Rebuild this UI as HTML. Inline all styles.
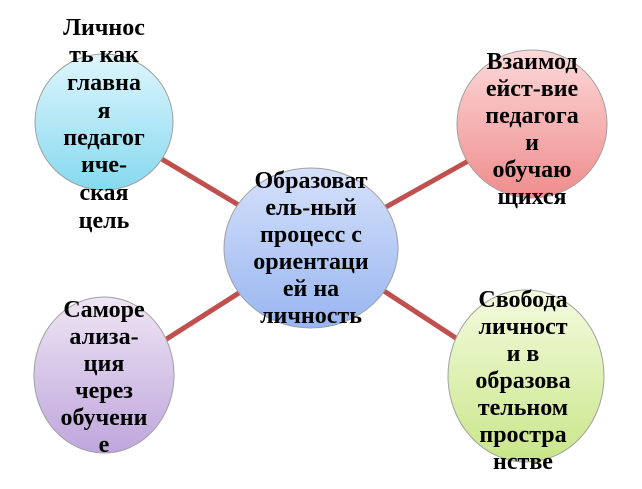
<!DOCTYPE html>
<html><head><meta charset="utf-8"><style>
html,body{margin:0;padding:0;background:#fff;}
svg{display:block}
text{font-family:"Liberation Serif","Times New Roman","DejaVu Serif",serif;font-weight:bold;font-size:24px;fill:#000;text-anchor:middle}
</style></head><body>
<svg width="642" height="489" viewBox="0 0 642 489" xmlns="http://www.w3.org/2000/svg">
<defs>
<linearGradient id="g1" x1="0" y1="0" x2="0" y2="1"><stop offset="0" stop-color="#dff6fd"/><stop offset="1" stop-color="#86d9ef"/></linearGradient>
<linearGradient id="g2" x1="0" y1="0" x2="0" y2="1"><stop offset="0" stop-color="#fdd9d9"/><stop offset="1" stop-color="#ef8c8c"/></linearGradient>
<linearGradient id="g3" x1="0" y1="0" x2="0" y2="1"><stop offset="0" stop-color="#d6e1fb"/><stop offset="1" stop-color="#98b6f0"/></linearGradient>
<linearGradient id="g4" x1="0" y1="0" x2="0" y2="1"><stop offset="0" stop-color="#efe5f4"/><stop offset="1" stop-color="#bea6dc"/></linearGradient>
<linearGradient id="g5" x1="0" y1="0" x2="0" y2="1"><stop offset="0" stop-color="#f4fbdf"/><stop offset="1" stop-color="#c9e689"/></linearGradient>
</defs>
<g stroke="#c0504d" stroke-width="5">
<line x1="160" y1="158" x2="242" y2="207"/>
<line x1="470" y1="160" x2="386" y2="207"/>
<line x1="165" y1="340" x2="242" y2="291"/>
<line x1="462" y1="342" x2="384" y2="291"/>
</g>
<g stroke="#a0a0a0" stroke-width="1">
<ellipse cx="104" cy="122" rx="69" ry="68" fill="url(#g1)"/>
<ellipse cx="532" cy="124" rx="75" ry="74" fill="url(#g2)"/>
<ellipse cx="311" cy="248" rx="87" ry="80" fill="url(#g3)"/>
<ellipse cx="104" cy="375" rx="70" ry="78" fill="url(#g4)"/>
<ellipse cx="526" cy="376" rx="78" ry="86" fill="url(#g5)"/>
</g>
<g>
<text x="104" y="35">Личнос</text>
<text x="104" y="62">ть как</text>
<text x="104" y="90">главна</text>
<text x="104" y="118">я</text>
<text x="104" y="145">педагог</text>
<text x="104" y="172">иче-</text>
<text x="104" y="200">ская</text>
<text x="104" y="228">цель</text>

<text x="532" y="69">Взаимод</text>
<text x="532" y="96">ейст-вие</text>
<text x="532" y="123">педагога</text>
<text x="532" y="150">и</text>
<text x="532" y="177">обучаю</text>
<text x="532" y="204">щихся</text>

<text x="311" y="188">Образоват</text>
<text x="311" y="215">ель-ный</text>
<text x="311" y="242">процесс с</text>
<text x="311" y="269">ориентаци</text>
<text x="311" y="296">ей на</text>
<text x="311" y="323">личность</text>

<text x="104" y="317">Саморе</text>
<text x="104" y="344">ализа-</text>
<text x="104" y="371">ция</text>
<text x="104" y="398">через</text>
<text x="104" y="425">обучени</text>
<text x="104" y="452">е</text>

<text x="523" y="307">Свобода</text>
<text x="523" y="334">личност</text>
<text x="523" y="361">и в</text>
<text x="523" y="388">образова</text>
<text x="523" y="415">тельном</text>
<text x="523" y="442">простра</text>
<text x="523" y="469">нстве</text>
</g>
</svg>
</body></html>
